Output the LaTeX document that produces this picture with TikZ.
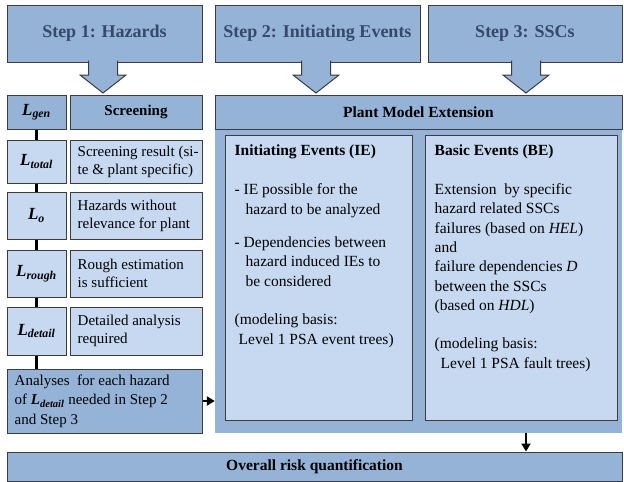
\documentclass[tikz,border=0pt]{standalone}
\usepackage{fontspec}
\setmainfont{Liberation Serif}
\usetikzlibrary{arrows.meta}
\definecolor{hzmid}{HTML}{95B3D7}
\definecolor{hzlite}{HTML}{C6D9F1}
\definecolor{hzedge}{HTML}{3C3C3C}
\definecolor{hztitle}{HTML}{35496A}
\newcommand{\Lsym}[1]{\textbf{\textit{L\textsubscript{#1}}}}
\tikzset{
  box/.style={draw=hzedge,line width=1pt,inner sep=0pt,fill=hzmid},
  stepbox/.style={box,text=hztitle,font=\fontsize{18}{20}\selectfont\bfseries,minimum height=57pt},
  headbox/.style={box,font=\fontsize{15.5}{18}\selectfont\bfseries,minimum height=34pt},
  litebox/.style={box,fill=hzlite},
  lbox/.style={litebox,minimum width=59pt,font=\fontsize{17}{19}\selectfont},
  txtbox/.style={litebox,minimum width=132pt},
  txt/.style={inner sep=0pt,align=left,font=\fontsize{15}{18}\selectfont},
  paneltxt/.style={inner sep=0pt,align=left,font=\fontsize{15.5}{19.3}\selectfont},
  blockar/.style={fill=hzmid,draw=hzedge,line width=1pt,line join=miter},
  link/.style={line width=2.4pt,black},
  ar/.style={-{Triangle[length=8pt,width=9pt]},line width=2pt,black},
}

\begin{document}
\begin{tikzpicture}[x=1pt,y=-1pt]
  \useasboundingbox (0,0) rectangle (624,482);
  % steps
  \node[stepbox,minimum width=195pt] (step1) at (104.5,33.5) {Step 1: Hazards};
  \node[stepbox,minimum width=205pt] (step2) at (317.5,33.5) {Step 2: Initiating Events};
  \node[stepbox,minimum width=194pt] (step3) at (525,33.5) {Step 3: SSCs};
  \foreach \x in {103,316,526} {\draw[blockar] (\x-14.5,60.5) -- (\x-14.5,75) -- (\x-23,75) -- (\x,93) -- (\x+23,75) -- (\x+14.5,75) -- (\x+14.5,60.5);}
  % screening column
  \node[lbox,fill=hzmid,minimum height=34pt] (lgen) at (36.5,112) {\Lsym{gen}};
  \node[headbox,minimum width=132pt,font=\fontsize{15}{18}\selectfont\bfseries] (scr) at (136,112) {Screening};
  \node[lbox,minimum height=43pt] (ltotal) at (36.5,161.5) {\Lsym{total}};
  \node[txtbox,minimum height=43pt] (ttotal) at (136,161.5) {};
  \node[txt,anchor=west] at ([xshift=8pt]ttotal.west) {Screening result (si-\\te \& plant specific)};
  \node[lbox,minimum height=47pt] (lo) at (36.5,215.5) {\Lsym{o}};
  \node[txtbox,minimum height=47pt] (to) at (136,215.5) {};
  \node[txt,anchor=west] at ([xshift=8pt]to.west) {Hazards without\\relevance for plant};
  \node[lbox,minimum height=47pt] (lrough) at (36.5,273.5) {\Lsym{rough}};
  \node[txtbox,minimum height=47pt] (trough) at (136,273.5) {};
  \node[txt,anchor=west] at ([xshift=8pt]trough.west) {Rough estimation\\is sufficient};
  \node[lbox,minimum height=48pt] (ldetail) at (36.5,331) {\Lsym{detail}};
  \node[txtbox,minimum height=48pt] (tdetail) at (136,331) {};
  \node[txt,anchor=west] at ([xshift=8pt]tdetail.west) {Detailed analysis\\required};
  \node[box,minimum width=195pt,minimum height=64pt] (analyses) at (104.5,401) {};
  \node[txt,anchor=west,font=\fontsize{15}{19.5}\selectfont] at ([xshift=8pt]analyses.west) {Analyses\ \ for each hazard\\of \Lsym{detail} needed in Step 2\\and Step 3};
  \draw[link] (lgen) -- (ltotal);
  \draw[link] (ltotal) -- (lo);
  \draw[link] (lo) -- (lrough);
  \draw[link] (lrough) -- (ldetail);
  \draw[link] (ldetail.south) -- (ldetail.south |- analyses.north);
  % plant model extension
  \node[fill=hzmid,inner sep=0pt,minimum width=407pt,minimum height=304pt] (panel) at (418.5,281) {};
  \node[headbox,minimum width=407pt] (pme) at (418.5,112) {Plant Model Extension};
  \node[litebox,minimum width=187pt,minimum height=285pt] (ie) at (318.5,277.5) {};
  \node[paneltxt,anchor=north west] at ([shift={(10pt,-10.5pt)}]ie.north west) {\textbf{Initiating Events (IE)}\\[19.7pt]
    - IE possible for the\\
    \hspace*{11pt}hazard to be analyzed\\[14pt]
    - Dependencies between\\
    \hspace*{11pt}hazard induced IEs to\\
    \hspace*{11pt}be considered\\[19.5pt]
    (modeling basis:\\
    \hspace*{4pt}Level 1 PSA event trees)};
  \node[litebox,minimum width=192pt,minimum height=285pt] (be) at (521,277.5) {};
  \node[paneltxt,anchor=north west] at ([shift={(10pt,-10.5pt)}]be.north west) {\textbf{Basic Events (BE)}\\[19.3pt]
    Extension\ \ by specific\\
    hazard related SSCs\\
    failures (based on \textit{HEL})\\
    and\\
    failure dependencies \textit{D}\\
    between the SSCs\\
    (based on \textit{HDL})\\[19.3pt]
    (modeling basis:\\
    \hspace*{6pt}Level 1 PSA fault trees)};
  % result
  \node[headbox,minimum width=615pt,minimum height=29pt] (overall) at (314.5,466.5) {Overall risk quantification};
  \draw[ar] (analyses.east) -- (analyses.east -| panel.west);
  \draw[ar] ([xshift=107.5pt]panel.south) -- ([xshift=107.5pt]panel.south |- overall.north);
\end{tikzpicture}
\end{document}
